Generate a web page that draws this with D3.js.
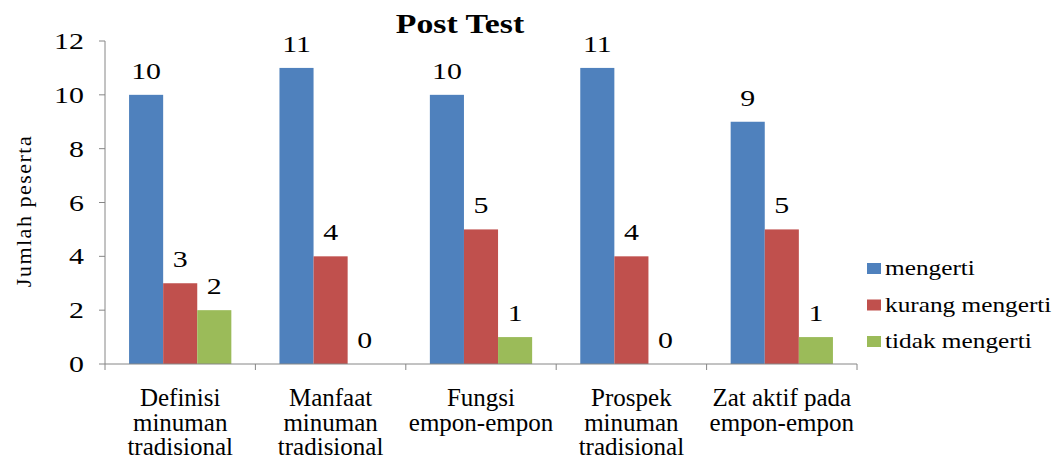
<!DOCTYPE html>
<html>
<head>
<meta charset="utf-8">
<script src="https://cdn.jsdelivr.net/npm/d3@7/dist/d3.min.js"></script>
<style>
  body { margin: 0; background: #fff; }
  text { font-family: "Liberation Serif", "Times New Roman", serif; fill: #000; }
</style>
</head>
<body>
<div id="chart"></div>
<script>
// data
let categories = [
  ["Definisi", "minuman", "tradisional"],
  ["Manfaat", "minuman", "tradisional"],
  ["Fungsi", "empon-empon"],
  ["Prospek", "minuman", "tradisional"],
  ["Zat aktif pada", "empon-empon"]
];
let seriesNames = ["mengerti", "kurang mengerti", "tidak mengerti"];
let mengerti = [10, 11, 10, 11, 9];
let kurangMengerti = [3, 4, 5, 4, 5];
let tidakMengerti = [2, 0, 1, 0, 1];
let yTicks = [0, 2, 4, 6, 8, 10, 12];
let colors = ["#4F81BD", "#C0504D", "#9BBB59"];

let width = 1061, height = 459;
let plotLeft = 105, plotRight = 857, plotTop = 41, plotBottom = 364;

let svg = d3.select("#chart").append("svg")
  .attr("width", width)
  .attr("height", height);

let x0 = d3.scaleBand()
  .domain(d3.range(categories.length))
  .range([plotLeft, plotRight]);

let bw = x0.bandwidth();
let x1 = d3.scaleBand()
  .domain(seriesNames)
  .range([bw * 0.16, bw * 0.84]);

let y = d3.scaleLinear()
  .domain([0, 12])
  .range([plotBottom, plotTop]);

let rows = categories.map(function(c, i) {
  return {
    index: i,
    values: [mengerti[i], kurangMengerti[i], tidakMengerti[i]]
  };
});

// stretched text, like the picture
function wideText(sel, sx) {
  return sel.attr("transform", function(d) {
    return "translate(" + d.tx + "," + d.ty + ") scale(" + sx + ",1)";
  });
}

// bars
let groups = svg.selectAll(".group")
  .data(rows)
  .enter().append("g")
  .attr("class", "group")
  .attr("transform", function(d) { return "translate(" + x0(d.index) + ",0)"; });

groups.selectAll("rect")
  .data(function(d) { return d.values.map(function(v, k) { return { v: v, k: k }; }); })
  .enter().append("rect")
  .attr("x", function(d) { return x1(seriesNames[d.k]); })
  .attr("width", x1.bandwidth())
  .attr("y", function(d) { return y(d.v); })
  .attr("height", function(d) { return y(0) - y(d.v); })
  .attr("fill", function(d) { return colors[d.k]; });

// value labels
groups.selectAll(".val")
  .data(function(d) {
    return d.values.map(function(v, k) {
      return { v: v, tx: x1(seriesNames[k]) + x1.bandwidth() / 2, ty: y(v) - 16 };
    });
  })
  .enter().append("text")
  .attr("class", "val")
  .attr("text-anchor", "middle")
  .style("font-size", "23px")
  .text(function(d) { return d.v; })
  .call(wideText, 1.3);

// y axis
svg.append("line")
  .attr("x1", plotLeft).attr("x2", plotLeft)
  .attr("y1", y(12)).attr("y2", y(0))
  .attr("stroke", "#868686");

svg.selectAll(".ytick")
  .data(yTicks)
  .enter().append("line")
  .attr("x1", plotLeft - 6).attr("x2", plotLeft)
  .attr("y1", function(d) { return y(d); })
  .attr("y2", function(d) { return y(d); })
  .attr("stroke", "#868686");

svg.selectAll(".ylab")
  .data(yTicks.map(function(t) { return { t: t, tx: 84, ty: y(t) + 8 }; }))
  .enter().append("text")
  .attr("class", "ylab")
  .attr("text-anchor", "end")
  .style("font-size", "23px")
  .text(function(d) { return d.t; })
  .call(wideText, 1.3);

// x axis
svg.append("line")
  .attr("x1", plotLeft).attr("x2", plotRight)
  .attr("y1", plotBottom).attr("y2", plotBottom)
  .attr("stroke", "#868686");

svg.selectAll(".xtick")
  .data(d3.range(categories.length + 1))
  .enter().append("line")
  .attr("x1", function(d) { return plotLeft + d * bw; })
  .attr("x2", function(d) { return plotLeft + d * bw; })
  .attr("y1", plotBottom).attr("y2", plotBottom + 6)
  .attr("stroke", "#868686");

let xlab = svg.selectAll(".xlab")
  .data(rows)
  .enter().append("text")
  .attr("class", "xlab")
  .attr("text-anchor", "middle")
  .style("font-size", "25px");

xlab.selectAll("tspan")
  .data(function(d) { return categories[d.index].map(function(s) { return { s: s, i: d.index }; }); })
  .enter().append("tspan")
  .attr("x", function(d) { return x0(d.i) + bw / 2; })
  .attr("y", function(d, j) { return 406 + j * 24.5; })
  .text(function(d) { return d.s; });

// axis title
svg.append("text")
  .attr("transform", "translate(31,211) rotate(-90)")
  .attr("text-anchor", "middle")
  .style("font-size", "22px")
  .style("letter-spacing", "1.5px")
  .text("Jumlah peserta");

// title
svg.selectAll(".title")
  .data([{ tx: 460, ty: 33 }])
  .enter().append("text")
  .attr("class", "title")
  .attr("text-anchor", "middle")
  .style("font-size", "27px")
  .style("font-weight", "bold")
  .text("Post Test")
  .call(wideText, 1.25);

// legend
let legend = svg.selectAll(".legend")
  .data(seriesNames)
  .enter().append("g")
  .attr("class", "legend")
  .attr("transform", function(d, i) { return "translate(867," + (268.5 + i * 36.5) + ")"; });

legend.append("rect")
  .attr("x", 0).attr("y", -5.5)
  .attr("width", 14).attr("height", 11)
  .attr("fill", function(d, i) { return colors[i]; });

legend.append("text")
  .attr("transform", "translate(18,6.5) scale(1.15,1)")
  .style("font-size", "22px")
  .text(function(d) { return d; });
</script>
</body>
</html>
